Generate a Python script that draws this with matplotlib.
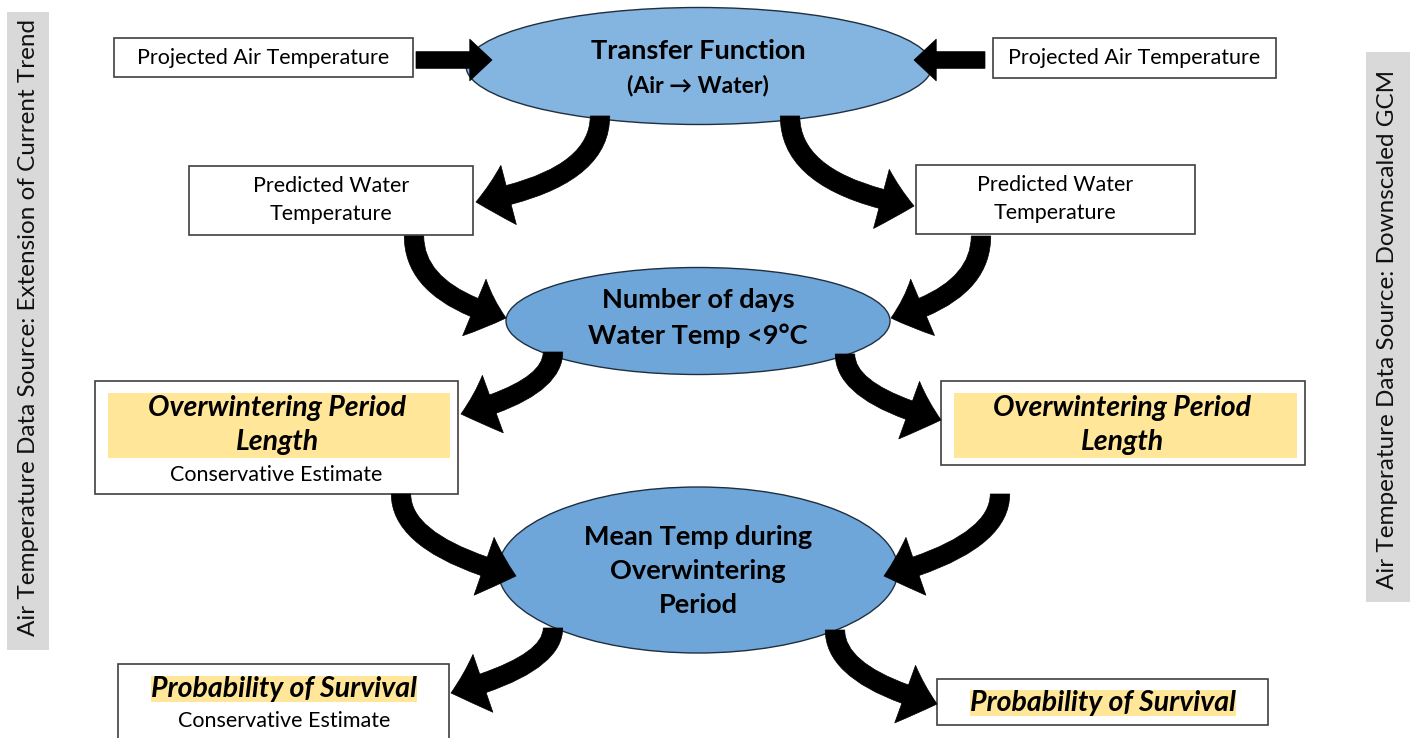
import matplotlib.pyplot as plt
from matplotlib.patches import Rectangle, Ellipse, FancyArrowPatch

plt.rcParams['font.family'] = ['Lato', 'DejaVu Sans']

# chart text
side_left = "Air Temperature Data Source: Extension of Current Trend"
side_right = "Air Temperature Data Source: Downscaled GCM"
input_label = "Projected Air Temperature"
water_label = "Predicted Water\nTemperature"
ellipse_labels = ["Transfer Function", "(Air \u2192 Water)"]
days_label = "Number of days\nWater Temp <9\u00b0C"
mean_label = "Mean Temp during\nOverwintering\nPeriod"
period_label = "Overwintering Period\nLength"
survival_label = "Probability of Survival"
estimate_label = "Conservative Estimate"

# layout (pixel space of the 1411x738 image)
W, H = 1411, 738
fig = plt.figure(figsize=(W / 100, H / 100), dpi=100)
ax = fig.add_axes([0, 0, 1, 1])
ax.set_xlim(0, W)
ax.set_ylim(H, 0)
ax.axis('off')

BLUE1 = '#84B4E0'
BLUE2 = '#6FA6DA'
YELLOW = '#FFE699'
GRAY = '#D9D9D9'
EDGE = '#404040'
FS_BOX = 15.5
FS_BOLD = 19.5
FS_HL = 20.5


def box(x0, y0, x1, y1):
    ax.add_patch(Rectangle((x0, y0), x1 - x0, y1 - y0, facecolor='white',
                           edgecolor=EDGE, lw=1.2, zorder=2))


def oval(cx, cy, w, h, color):
    ax.add_patch(Ellipse((cx, cy), w, h, facecolor=color, edgecolor='#1F2F40',
                         lw=1.0, zorder=2))


def curved(p0, p1, angle_b):
    a = FancyArrowPatch(p0, p1, connectionstyle=f"angle3,angleA=90,angleB={angle_b}",
                        arrowstyle="simple,head_length=24,head_width=44,tail_width=14",
                        facecolor='black', edgecolor='black', lw=0.5, zorder=4,
                        shrinkA=0, shrinkB=0)
    ax.add_patch(a)


def straight(p0, p1):
    a = FancyArrowPatch(p0, p1, arrowstyle="simple,head_length=16,head_width=30,tail_width=12",
                        facecolor='black', edgecolor='black', lw=0.5, zorder=4,
                        shrinkA=0, shrinkB=0)
    ax.add_patch(a)


# side labels
ax.add_patch(Rectangle((7, 12), 42, 638, facecolor=GRAY, edgecolor='none', zorder=1))
ax.text(29, 328, side_left, rotation=90, ha='center', va='center', fontsize=17.5, color='#111111')
ax.add_patch(Rectangle((1366, 52), 44, 550, facecolor=GRAY, edgecolor='none', zorder=1))
ax.text(1388, 329, side_right, rotation=90, ha='center', va='center', fontsize=17.5, color='#111111')

# top row
box(114, 38, 413, 77)
ax.text(263, 58, input_label, ha='center', va='center', fontsize=FS_BOX, zorder=3)
box(993, 38, 1276, 78)
ax.text(1134, 58, input_label, ha='center', va='center', fontsize=FS_BOX, zorder=3)
oval(699, 66, 466, 117, BLUE1)
ax.text(698, 51, ellipse_labels[0], ha='center', va='center', fontsize=FS_BOLD, fontweight='bold', zorder=3)
ax.text(698, 85, ellipse_labels[1], ha='center', va='center', fontsize=16.5, fontweight='bold', zorder=3)
straight((416, 60), (492, 60))
straight((985, 60), (914, 60))

# predicted water temperature
box(189, 166, 473, 235)
ax.text(331, 200, water_label, ha='center', va='center', fontsize=FS_BOX, linespacing=1.5, zorder=3)
box(916, 165, 1195, 234)
ax.text(1055, 199, water_label, ha='center', va='center', fontsize=FS_BOX, linespacing=1.5, zorder=3)
curved((600, 116), (476, 202), 10)
curved((790, 116), (914, 206), -10)

# number of days
oval(698, 321, 384, 107, BLUE2)
ax.text(698, 318, days_label, ha='center', va='center', fontsize=FS_BOLD, fontweight='bold',
        linespacing=1.55, zorder=3)
curved((414, 236), (506, 318), -15)
curved((981, 236), (891, 318), 15)

# overwintering period length
box(95, 381, 458, 494)
ax.add_patch(Rectangle((108, 393), 342, 65, facecolor=YELLOW, edgecolor='none', zorder=2.5))
ax.text(277, 425, period_label, ha='center', va='center', fontsize=FS_HL, fontweight='bold',
        style='italic', linespacing=1.4, zorder=3)
ax.text(276, 475, estimate_label, ha='center', va='center', fontsize=FS_BOX, zorder=3)
box(941, 381, 1305, 465)
ax.add_patch(Rectangle((954, 393), 343, 65, facecolor=YELLOW, edgecolor='none', zorder=2.5))
ax.text(1122, 425, period_label, ha='center', va='center', fontsize=FS_HL, fontweight='bold',
        style='italic', linespacing=1.4, zorder=3)
curved((553, 352), (461, 414), 15)
curved((845, 354), (941, 420), -15)

# mean temperature
oval(698, 570, 400, 166, BLUE2)
ax.text(698, 571, mean_label, ha='center', va='center', fontsize=FS_BOLD, fontweight='bold',
        linespacing=1.5, zorder=3)
curved((401, 494), (516, 576), -15)
curved((1000, 494), (884, 576), 15)

# probability of survival
box(118, 664, 449, 745)
ax.text(284, 689, survival_label, ha='center', va='center', fontsize=FS_HL, fontweight='bold',
        style='italic', zorder=3, bbox=dict(facecolor=YELLOW, edgecolor='none', pad=0))
ax.text(284, 721, estimate_label, ha='center', va='center', fontsize=FS_BOX, zorder=3)
box(937, 679, 1268, 725)
ax.text(1103, 703, survival_label, ha='center', va='center', fontsize=FS_HL, fontweight='bold',
        style='italic', zorder=3, bbox=dict(facecolor=YELLOW, edgecolor='none', pad=0))
curved((553, 628), (451, 693), 15)
curved((835, 630), (937, 704), -15)

fig.savefig('out.png', dpi=100)
